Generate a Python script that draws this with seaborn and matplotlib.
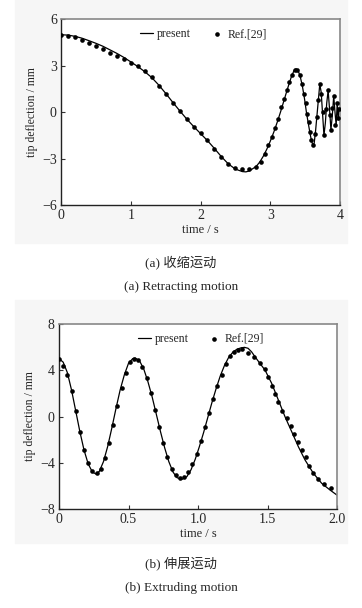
import numpy as np
import pandas as pd
import matplotlib
matplotlib.use("Agg")
import matplotlib.pyplot as plt
import seaborn as sns
from matplotlib.patches import Rectangle

# -----------------------------
# (a) retracting motion
# -----------------------------
ret_t = [0.0, 0.1, 0.2, 0.3, 0.4, 0.5, 0.6, 0.7, 0.8, 0.9, 1.0, 1.1, 1.2, 1.3, 1.4,
         1.5, 1.6, 1.7, 1.8, 1.9, 2.0, 2.1, 2.2, 2.3, 2.4, 2.5, 2.6, 2.65, 2.7, 2.8,
         2.85, 2.9, 2.95, 3.0, 3.05, 3.1, 3.15, 3.2, 3.25, 3.3, 3.34, 3.37, 3.4, 3.43,
         3.46, 3.49, 3.52, 3.55, 3.58, 3.61, 3.63, 3.65, 3.67, 3.69, 3.71, 3.73, 3.75,
         3.77, 3.79, 3.81, 3.83, 3.85, 3.87, 3.89, 3.91, 3.93, 3.945, 3.96, 3.975,
         3.99, 4.0]
ret_present = [5.0, 4.98, 4.9, 4.78, 4.62, 4.45, 4.26, 4.03, 3.8, 3.54, 3.25, 2.95,
               2.62, 2.24, 1.76, 1.22, 0.65, 0.1, -0.43, -0.92, -1.38, -1.84, -2.35,
               -2.88, -3.35, -3.68, -3.84, -3.86, -3.8, -3.5, -3.22, -2.85, -2.4, -1.88,
               -1.3, -0.65, 0.05, 0.8, 1.55, 2.25, 2.68, 2.8, 2.68, 2.3, 1.7, 0.9, -0.05,
               -0.85, -1.6, -2.15, -2.0, -1.2, -0.2, 0.8, 1.8, 1.3, -0.1, -1.5, -0.7,
               0.6, 1.4, 0.2, -1.15, -0.2, 1.05, -0.1, -0.85, 0.6, -0.5, 0.3, 0.0]

ret_ref_t = [0.0, 0.1, 0.2, 0.3, 0.4, 0.5, 0.6, 0.7, 0.8, 0.9, 1.0, 1.1, 1.2, 1.3, 1.4,
             1.5, 1.6, 1.7, 1.8, 1.9, 2.0, 2.1, 2.2, 2.3, 2.4, 2.5, 2.6, 2.7, 2.8, 2.87,
             2.93, 2.97, 3.02, 3.07, 3.11, 3.16, 3.2, 3.24, 3.27, 3.31, 3.35, 3.39, 3.43,
             3.46, 3.48, 3.51, 3.52, 3.55, 3.57, 3.59, 3.61, 3.64, 3.67, 3.69, 3.71, 3.73,
             3.75, 3.77, 3.8, 3.83, 3.85, 3.87, 3.89, 3.91, 3.93, 3.95, 3.97, 3.99]
ret_ref = [5.0, 4.95, 4.85, 4.68, 4.5, 4.28, 4.07, 3.85, 3.66, 3.46, 3.2, 2.95, 2.64,
           2.25, 1.7, 1.2, 0.62, 0.07, -0.45, -0.95, -1.37, -1.8, -2.35, -2.9, -3.38,
           -3.62, -3.7, -3.66, -3.52, -3.21, -2.7, -2.15, -1.6, -1.0, -0.45, 0.34, 0.88,
           1.42, 1.96, 2.39, 2.72, 2.72, 2.39, 1.85, 1.2, 0.56, -0.09, -0.62, -1.27,
           -1.81, -2.13, -1.38, -0.3, 0.78, 1.85, 1.2, 0.0, -1.5, 0.2, 1.4, -0.2, -1.15,
           0.3, 1.05, -0.8, 0.6, -0.4, 0.2]

# -----------------------------
# (b) extruding motion
# -----------------------------
ext_t = [0.0, 0.03, 0.06, 0.09, 0.12, 0.15, 0.18, 0.21, 0.24, 0.265, 0.29, 0.32, 0.35,
         0.38, 0.41, 0.44, 0.47, 0.5, 0.53, 0.55, 0.58, 0.61, 0.64, 0.67, 0.7, 0.73,
         0.76, 0.79, 0.82, 0.85, 0.885, 0.92, 0.95, 0.98, 1.01, 1.04, 1.07, 1.1, 1.13,
         1.16, 1.19, 1.22, 1.25, 1.28, 1.31, 1.335, 1.36, 1.385, 1.41, 1.445, 1.482,
         1.53, 1.578, 1.626, 1.674, 1.722, 1.77, 1.83, 1.89, 1.95, 2.0]
ext_present = [5.0, 4.7, 3.8, 2.3, 0.5, -1.3, -2.9, -4.1, -4.8, -4.97, -4.75, -3.9,
               -2.6, -1.0, 0.7, 2.3, 3.6, 4.6, 5.0, 5.05, 4.8, 4.1, 3.0, 1.7, 0.2, -1.3,
               -2.7, -3.9, -4.8, -5.3, -5.43, -5.2, -4.6, -3.7, -2.6, -1.4, -0.1, 1.2,
               2.4, 3.5, 4.4, 5.1, 5.55, 5.82, 5.94, 5.98, 5.9, 5.6, 5.17, 4.6, 4.02,
               2.87, 1.43, -0.02, -1.31, -2.61, -3.76, -4.91, -5.78, -6.36, -6.8]

ext_ref_t = [0.0, 0.03, 0.06, 0.09, 0.12, 0.15, 0.18, 0.21, 0.24, 0.27, 0.3, 0.33, 0.36,
             0.39, 0.42, 0.45, 0.48, 0.51, 0.54, 0.57, 0.6, 0.63, 0.66, 0.69, 0.72, 0.75,
             0.78, 0.81, 0.84, 0.87, 0.9, 0.93, 0.96, 0.99, 1.02, 1.05, 1.08, 1.11, 1.14,
             1.17, 1.2, 1.23, 1.26, 1.29, 1.32, 1.362, 1.405, 1.446, 1.482, 1.506, 1.53,
             1.554, 1.578, 1.607, 1.638, 1.667, 1.693, 1.722, 1.746, 1.775, 1.799, 1.83,
             1.866, 1.909, 1.957]
ext_ref = [5.0, 4.4, 3.6, 2.2, 0.5, -1.3, -2.9, -4.0, -4.7, -4.85, -4.5, -3.6, -2.3,
           -0.7, 0.9, 2.5, 3.8, 4.7, 5.0, 4.9, 4.3, 3.3, 2.0, 0.6, -0.9, -2.3, -3.5,
           -4.5, -5.1, -5.3, -5.2, -4.8, -4.1, -3.2, -2.1, -0.9, 0.3, 1.5, 2.6, 3.6,
           4.5, 5.2, 5.6, 5.78, 5.85, 5.47, 5.12, 4.66, 4.08, 3.39, 2.64, 1.95, 1.23,
           0.5, -0.16, -0.82, -1.51, -2.18, -2.9, -3.53, -4.28, -4.91, -5.43, -5.87,
           -6.21]

sns.set_style("ticks")
plt.rcParams["font.family"] = ["Liberation Serif", "Noto Sans CJK SC", "DejaVu Sans"]
plt.rcParams["axes.unicode_minus"] = True

fig = plt.figure(figsize=(3.62, 6.08), dpi=100)

# faint grey frame behind each chart
fig.patches.append(Rectangle((15 / 362, 1 - 243 / 608), 332 / 362, 243 / 608,
                             transform=fig.transFigure, color="#f6f6f6", zorder=-5))
fig.patches.append(Rectangle((15 / 362, 1 - 543 / 608), 332 / 362, 243 / 608,
                             transform=fig.transFigure, color="#f6f6f6", zorder=-5))

ax1 = fig.add_axes([61 / 362, 1 - 205 / 608, 279 / 362, 185.7 / 608])
ax2 = fig.add_axes([59 / 362, 1 - 509 / 608, 278 / 362, 185 / 608])


def draw(ax, t, y, rt, ry, xlim, xticks, xticklabels, ylim, yticks):
    df_line = pd.DataFrame({"time": t, "tip": y})
    df_ref = pd.DataFrame({"time": rt, "tip": ry})
    sns.lineplot(data=df_line, x="time", y="tip", ax=ax, color="black", lw=0.9,
                 label="present", sort=False, estimator=None)
    sns.scatterplot(data=df_ref, x="time", y="tip", ax=ax, color="black", s=11,
                    linewidth=0, label="Ref.[29]", zorder=3)
    ax.set_xlim(*xlim)
    ax.set_ylim(*ylim)
    ax.set_xticks(xticks)
    ax.set_xticklabels(xticklabels)
    ax.set_yticks(yticks)
    ax.set_yticklabels([str(v).replace("-", "\u2212") for v in yticks])
    ax.set_xlabel("time / s", fontsize=9, labelpad=1)
    ax.set_ylabel("tip deflection / mm", fontsize=8.5, labelpad=3)
    ax.tick_params(direction="in", length=3, width=0.8, labelsize=10, pad=3, color="#333333")
    ax.set_facecolor("white")
    for side in ["left", "bottom"]:
        ax.spines[side].set_color("#222222")
        ax.spines[side].set_linewidth(1.0)
    for side in ["top", "right"]:
        ax.spines[side].set_visible(True)
        ax.spines[side].set_color("#888888")
        ax.spines[side].set_linewidth(1.2)
    ax.legend(loc="upper center", ncol=2, frameon=False, fontsize=8.5,
              handlelength=1.1, handletextpad=0.35, columnspacing=1.6,
              borderaxespad=0.35, markerscale=1.0, bbox_to_anchor=(0.51, 1.0))


draw(ax1, ret_t, ret_present, ret_ref_t, ret_ref, (0, 4), [0, 1, 2, 3, 4],
     ["0", "1", "2", "3", "4"], (-6, 6), [-6, -3, 0, 3, 6])
draw(ax2, ext_t, ext_present, ext_ref_t, ext_ref, (0, 2.0), [0, 0.5, 1.0, 1.5, 2.0],
     ["0", "0.5", "1.0", "1.5", "2.0"], (-8, 8), [-8, -4, 0, 4, 8])

fig.text(0.5, 1 - 262 / 608, "(a) 收缩运动", ha="center", va="center", fontsize=9.5)
fig.text(0.5, 1 - 287 / 608, "(a) Retracting motion", ha="center", va="center", fontsize=9.5)
fig.text(0.5, 1 - 563 / 608, "(b) 伸展运动", ha="center", va="center", fontsize=9.5)
fig.text(0.5, 1 - 588 / 608, "(b) Extruding motion", ha="center", va="center", fontsize=9.5)

fig.savefig("out.png", dpi=100, facecolor="white")
